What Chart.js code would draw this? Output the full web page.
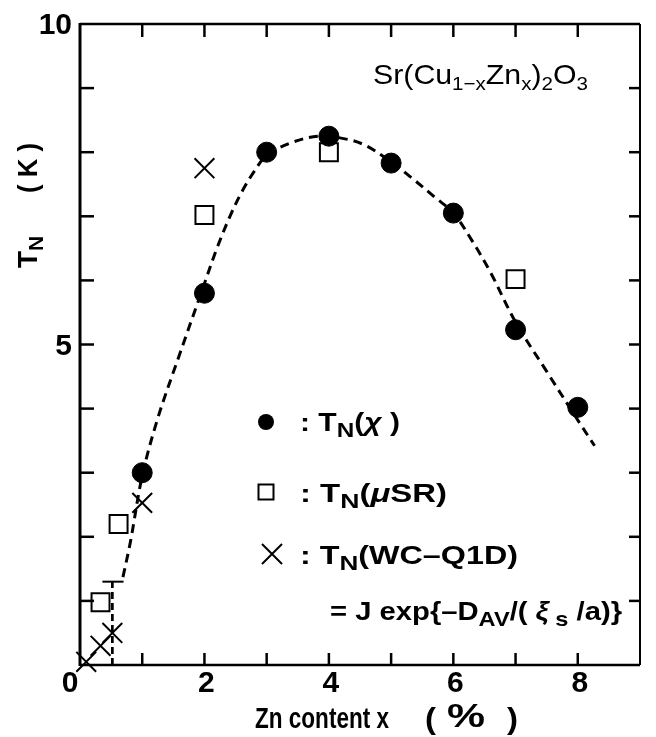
<!DOCTYPE html>
<html lang="en">
<head>
<meta charset="UTF-8">
<title>Sr(Cu1-xZnx)2O3 - TN vs Zn content</title>
<script src="https://cdn.jsdelivr.net/npm/chart.js@4"></script>
<style>
  html, body { margin: 0; padding: 0; background: #fff; }
  #chart { display: block; }
</style>
</head>
<body>
<canvas id="chart" width="656" height="737"></canvas>
<script>
// T_N(chi), filled circles
const chiX = [1, 2, 3, 4, 5, 6, 7, 8];
const chiY = [3.0, 5.8, 8.0, 8.25, 7.83, 7.05, 5.23, 4.02];
// T_N(muSR), open squares
const muX = [0.33, 0.62, 2, 4, 7];
const muY = [0.98, 2.2, 7.02, 8.0, 6.02];
// T_N(WC-Q1D), crosses
const wcX = [0.1, 0.33, 0.52, 1.0, 2.0];
const wcY = [0.05, 0.3, 0.5, 2.53, 7.75];
// dashed guide curve
const fitX = [0.69, 0.81, 1.0, 1.25, 1.57, 2.0, 2.2, 2.41, 2.6, 2.8, 3.0, 3.4, 3.85, 4.3, 4.6, 5.0, 5.33, 5.7, 6.0, 6.3, 6.6, 7.0, 7.5, 8.0, 8.27];
const fitY = [1.37, 1.92, 2.95, 3.85, 4.76, 5.95, 6.5, 7.0, 7.38, 7.7, 7.95, 8.15, 8.25, 8.2, 8.1, 7.85, 7.6, 7.3, 7.05, 6.62, 6.12, 5.35, 4.58, 3.82, 3.42];
// vertical dashed cut-off and its cap
const cutX = [0.52, 0.52];
const cutY = [0, 1.3];
const capX = [0.36, 0.7];
const capY = [1.3, 1.3];

// axes
const xTicks = [1, 2, 3, 4, 5, 6, 7, 8];
const yTicks = [1, 2, 3, 4, 5, 6, 7, 8, 9];
const xTickLabels = [0, 2, 4, 6, 8];
const yTickLabels = [5, 10];

const pts = (xs, ys) => xs.map((x, i) => ({ x: x, y: ys[i] }));
const FAM = "'Liberation Sans', Arial, sans-serif";

// draw a line of text made of runs: n = normal, s = subscript, g = italic greek
function runs(ctx, parts, x, y, size, opt) {
    opt = opt || {};
    const w = opt.bold ? 'bold ' : '';
    const subK = opt.sub || 0.68;
    const fontOf = p => (p[1] === 'g' ? 'italic ' : '') + w + (p[1] === 's' ? Math.round(size * subK) : size) + 'px ' + FAM;
    let total = 0;
    parts.forEach(p => { ctx.font = fontOf(p); total += ctx.measureText(p[0]).width; });
    const sx = opt.width ? opt.width / total : 1;
    ctx.save();
    ctx.translate(x, y);
    if (opt.rot) ctx.rotate(opt.rot);
    ctx.scale(sx, 1);
    ctx.fillStyle = '#000';
    ctx.textAlign = 'left';
    ctx.textBaseline = 'alphabetic';
    let cx = 0;
    parts.forEach(p => {
        ctx.font = fontOf(p);
        ctx.fillText(p[0], cx, p[1] === 's' ? size * 0.22 : 0);
        cx += ctx.measureText(p[0]).width;
    });
    ctx.restore();
}

const framePlugin = {
    id: 'frame',
    beforeDraw(chart) {
        const ctx = chart.ctx;
        ctx.save();
        ctx.fillStyle = '#fff';
        ctx.fillRect(0, 0, chart.width, chart.height);
        ctx.restore();
    },
    afterDraw(chart) {
        const ctx = chart.ctx;
        const a = chart.chartArea;
        const xs = chart.scales.x, ys = chart.scales.y;
        ctx.save();
        ctx.strokeStyle = '#000';
        ctx.lineCap = 'butt';

        // box
        ctx.lineWidth = 3;
        ctx.beginPath(); ctx.moveTo(a.left, a.top - 1); ctx.lineTo(a.left, a.bottom + 1); ctx.stroke();
        ctx.lineWidth = 2.5;
        ctx.beginPath(); ctx.moveTo(a.left, a.top); ctx.lineTo(a.right, a.top); ctx.stroke();
        ctx.beginPath(); ctx.moveTo(a.left, a.bottom); ctx.lineTo(a.right, a.bottom); ctx.stroke();
        ctx.lineWidth = 2;
        ctx.beginPath(); ctx.moveTo(a.right, a.top); ctx.lineTo(a.right, a.bottom); ctx.stroke();

        // inward ticks
        ctx.lineWidth = 2.5;
        xTicks.forEach(v => {
            const px = xs.getPixelForValue(v);
            ctx.beginPath(); ctx.moveTo(px, a.bottom); ctx.lineTo(px, a.bottom - 12); ctx.stroke();
            ctx.beginPath(); ctx.moveTo(px, a.top); ctx.lineTo(px, a.top + 13); ctx.stroke();
        });
        yTicks.forEach(v => {
            const py = ys.getPixelForValue(v);
            ctx.beginPath(); ctx.moveTo(a.left, py); ctx.lineTo(a.left + 14, py); ctx.stroke();
            ctx.beginPath(); ctx.moveTo(a.right, py); ctx.lineTo(a.right - 11, py); ctx.stroke();
        });

        // tick labels
        ctx.fillStyle = '#000';
        ctx.font = 'bold 30px ' + FAM;
        ctx.textBaseline = 'middle';
        ctx.textAlign = 'center';
        xTickLabels.forEach(v => {
            const px = v === 0 ? a.left - 10 : xs.getPixelForValue(v) + 2;
            ctx.fillText(String(v), px, a.bottom + 19);
        });
        ctx.textAlign = 'right';
        yTickLabels.forEach(v => {
            ctx.fillText(String(v), a.left - 8, ys.getPixelForValue(v) + 2);
        });

        // axis titles
        runs(ctx, [['Zn content x', 'n']], 255, 728, 30, { bold: true, width: 134 });
        runs(ctx, [['(', 'n']], 425, 729, 29, { bold: true, width: 11 });
        runs(ctx, [['%', 'n']], 447, 727, 33, { bold: true, width: 38 });
        runs(ctx, [[')', 'n']], 507, 729, 29, { bold: true, width: 11 });
        runs(ctx, [['T', 'n'], ['N', 's']], 37, 268, 28, { bold: true, sub: 0.75, rot: -Math.PI / 2 });
        runs(ctx, [['( K )', 'n']], 37, 193, 28, { bold: true, rot: -Math.PI / 2, width: 50 });

        // compound
        runs(ctx, [['Sr(Cu', 'n'], ['1\u2212x', 's'], ['Zn', 'n'], ['x', 's'], [')', 'n'], ['2', 's'], ['O', 'n'], ['3', 's']], 373, 84, 28, { width: 215 });

        // legend markers
        ctx.fillStyle = '#000';
        ctx.beginPath(); ctx.arc(266, 422, 8, 0, Math.PI * 2); ctx.fill();
        ctx.lineWidth = 2;
        ctx.strokeRect(258.5, 484.5, 15, 15);
        ctx.beginPath();
        ctx.moveTo(262, 544); ctx.lineTo(282, 564);
        ctx.moveTo(282, 544); ctx.lineTo(262, 564);
        ctx.stroke();

        // legend texts
        const lg = { bold: true, sub: 0.8 };
        runs(ctx, [[':', 'n'], [' T', 'n'], ['N', 's'], ['(', 'n'], ['\u03c7', 'g'], [' )', 'n']], 300, 431, 26, Object.assign({ width: 100 }, lg));
        runs(ctx, [[':', 'n'], [' T', 'n'], ['N', 's'], ['(', 'n'], ['\u03bc', 'g'], ['SR)', 'n']], 300, 502, 26, Object.assign({ width: 147 }, lg));
        runs(ctx, [[':', 'n'], [' T', 'n'], ['N', 's'], ['(WC\u2013Q1D)', 'n']], 300, 564, 26, Object.assign({ width: 218 }, lg));
        runs(ctx, [['= J exp{\u2013D', 'n'], ['AV', 's'], ['/(', 'n'], [' \u03be', 'g'], [' s', 's'], [' /a)}', 'n']], 330, 620, 26, Object.assign({ width: 292 }, lg));
        ctx.restore();
    }
};

new Chart(document.getElementById('chart'), {
    type: 'scatter',
    data: {
        datasets: [
            {
                label: 'TN(chi)',
                data: pts(chiX, chiY),
                pointStyle: 'circle',
                pointRadius: 10,
                backgroundColor: '#000',
                borderColor: '#000',
                borderWidth: 1,
                clip: false
            },
            {
                label: 'TN(muSR)',
                data: pts(muX, muY),
                pointStyle: 'rect',
                pointRadius: 12.7,
                backgroundColor: '#fff',
                borderColor: '#000',
                borderWidth: 2,
                clip: false
            },
            {
                label: 'TN(WC-Q1D)',
                data: pts(wcX, wcY),
                pointStyle: 'crossRot',
                pointRadius: 14,
                borderColor: '#000',
                borderWidth: 2,
                clip: false
            },
            {
                label: 'guide',
                data: pts(fitX, fitY),
                showLine: true,
                pointRadius: 0,
                borderColor: '#000',
                borderWidth: 3,
                borderDash: [9, 6],
                tension: 0.35,
                fill: false,
                clip: false
            },
            {
                label: 'cutoff',
                data: pts(cutX, cutY),
                showLine: true,
                pointRadius: 0,
                borderColor: '#000',
                borderWidth: 2.7,
                borderDash: [7, 4],
                clip: false
            },
            {
                label: 'cap',
                data: pts(capX, capY),
                showLine: true,
                pointRadius: 0,
                borderColor: '#000',
                borderWidth: 2,
                clip: false
            }
        ]
    },
    options: {
        responsive: false,
        animation: false,
        devicePixelRatio: 1,
        events: [],
        layout: { padding: { left: 80, right: 5, top: 24, bottom: 72 } },
        plugins: { legend: { display: false }, tooltip: { enabled: false } },
        scales: {
            x: { type: 'linear', min: 0, max: 9, display: false },
            y: { type: 'linear', min: 0, max: 10, display: false }
        }
    },
    plugins: [framePlugin]
});
</script>
</body>
</html>
